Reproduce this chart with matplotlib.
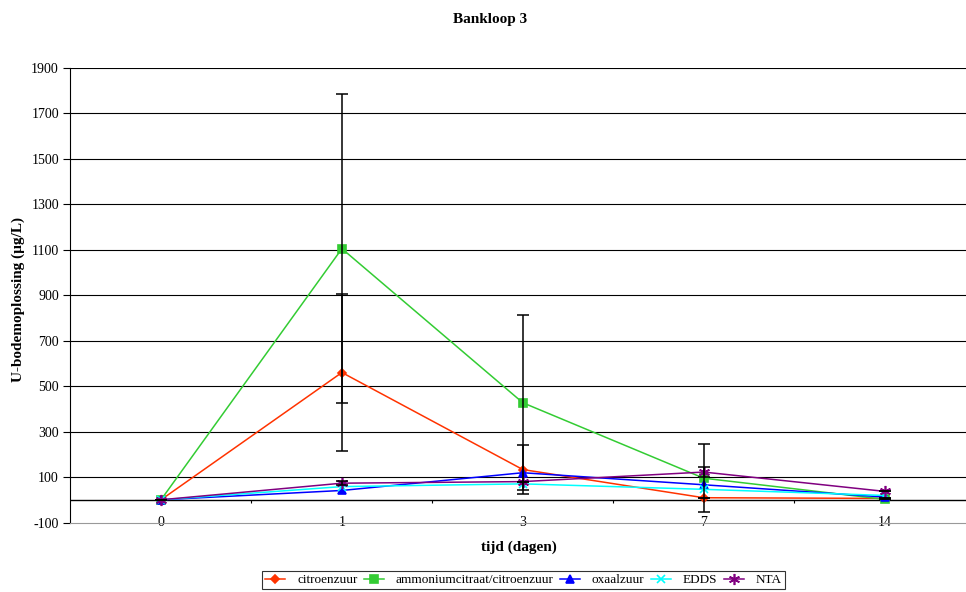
import numpy as np
import matplotlib
matplotlib.use('Agg')
from matplotlib import pyplot as plt

plt.rcParams['font.family'] = ['Liberation Serif', 'DejaVu Serif']

# meetdagen en gemeten U in bodemoplossing (ug/L)
days = ['0', '1', '3', '7', '14']
citroenzuur = [0, 560, 133, 9, 6]
citroenzuur_err = [0, 346, 106, 0, 0]
ammonium = [0, 1105, 427, 95, 2]
ammonium_err = [0, 680, 385, 150, 0]
oxaalzuur = [0, 41, 119, 66, 12]
edds = [0, 58, 70, 46, 19]
nta = [0, 73, 80, 122, 37]
nta_err = [0, 10, 0, 22, 0]

series = [
    ('citroenzuur', citroenzuur, citroenzuur_err, '#FF3300', 'D', 4.5),
    ('ammoniumcitraat/citroenzuur', ammonium, ammonium_err, '#33CC33', 's', 5.5),
    ('oxaalzuur', oxaalzuur, None, '#0000FF', '^', 6),
    ('EDDS', edds, None, '#00FFFF', 'x', 6),
    ('NTA', nta, nta_err, '#800080', (6, 2, 0), 8),
]

fig = plt.figure(figsize=(9.66, 5.92), dpi=100)
ax = fig.add_axes([70 / 966, 1 - 522.5 / 592, 1 - 70 / 966, (522.5 - 68) / 592])

x = np.arange(len(days))
for name, vals, err, col, mk, ms in series:
    ax.plot(x, vals, color=col, marker=mk, markersize=ms, linewidth=1.1,
            markeredgewidth=1.2, label=name, zorder=3)
    if err is not None:
        ax.errorbar(x, vals, yerr=err, fmt='none', ecolor='black',
                    elinewidth=1.1, capsize=4, capthick=1.1, zorder=4)

ax.set_xlim(-0.503, 4.45)
ax.set_ylim(-100, 1900)
yt = np.arange(-100, 1901, 200)
ax.set_yticks(yt)
ax.set_yticklabels([str(v) for v in yt], fontsize=10)
for v in yt[1:]:
    ax.axhline(v, color='black', linewidth=0.8, zorder=1)
ax.axhline(0, color='black', linewidth=1.0, zorder=2)
# kleine streepjes tussen de categorieen op de nullijn
ax.vlines(np.arange(len(days) - 1) + 0.5, -12, 0, color='black', linewidth=0.8)

ax.set_xticks(x)
ax.set_xticklabels(days, fontsize=10)
ax.tick_params(axis='x', length=0, pad=-5)
ax.tick_params(axis='y', length=5, width=0.8, direction='out', pad=3)

for s in ['top', 'right']:
    ax.spines[s].set_visible(False)
ax.spines['left'].set_color('black')
ax.spines['left'].set_linewidth(0.8)
ax.spines['bottom'].set_color('#999999')
ax.spines['bottom'].set_linewidth(0.8)

fig.text(490.5 / 966, 1 - 20 / 592, 'Bankloop 3', ha='center', va='center',
         fontsize=11, fontweight='bold')
fig.text(519 / 966, 1 - 547 / 592, 'tijd (dagen)', ha='center', va='center',
         fontsize=11, fontweight='bold')
fig.text(18 / 966, 1 - 300 / 592, 'U-bodemoplossing (µg/L)', ha='center',
         va='center', rotation=90, fontsize=11, fontweight='bold')

leg = fig.legend(loc='center', bbox_to_anchor=(523.5 / 966, 1 - 580 / 592), ncol=5,
                 fontsize=9.5, frameon=True, fancybox=False, edgecolor='black',
                 handlelength=1.5, handletextpad=0.9, columnspacing=0.5,
                 borderpad=0.25, borderaxespad=0)
leg.get_frame().set_linewidth(0.8)

fig.savefig('out.png', dpi=100)
